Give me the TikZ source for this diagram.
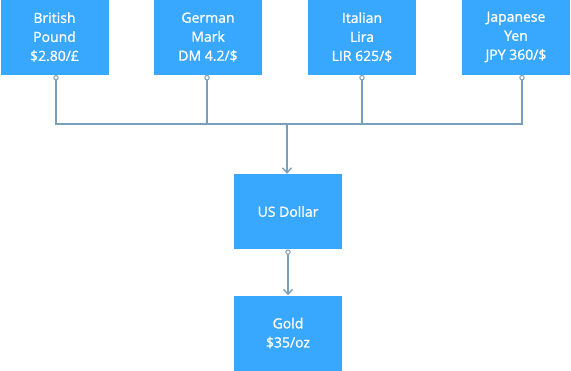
\documentclass[tikz,border=0pt]{standalone}
\usepackage{fontspec}
\setmainfont{Open Sans}[FakeBold=1.2]
\usetikzlibrary{arrows.meta}
\definecolor{boxblue}{HTML}{38A8FF}
\definecolor{linecol}{HTML}{7A9FBA}
\begin{document}
\begin{tikzpicture}[x=1pt,y=-1pt,
  cbox/.style={fill=boxblue, draw=none, minimum width=108pt, minimum height=75pt, inner sep=0pt, text=white, align=center, font=\fontsize{14pt}{19pt}\selectfont},
  conn/.style={draw=linecol, line width=1.4pt},
  dot/.style={draw=linecol, line width=1pt, fill=white},
  arr/.style={-{Straight Barb[length=5pt,width=9pt]}}
]
\useasboundingbox (0,0) rectangle (571,370);
\node[cbox] (bp) at (54.5,37) {British\\Pound\\\$2.80/£};
\node[cbox] (gm) at (208,37) {German\\Mark\\DM 4.2/\$};
\node[cbox] (il) at (362,37) {Italian\\Lira\\LIR 625/\$};
\node[cbox] (jy) at (516,37) {Japanese\\Yen\\JPY 360/\$};
\node[cbox] (usd) at (288,211.5) {US Dollar};
\node[cbox] (gold) at (288,333) {Gold\\\$35/oz};
\coordinate (hub) at (287,124);
\coordinate (pbp) at ([xshift=1.5pt,yshift=-3pt]bp.south);
\coordinate (pgm) at ([xshift=-1pt,yshift=-3pt]gm.south);
\coordinate (pil) at ([yshift=-3pt]il.south);
\coordinate (pjy) at ([xshift=6pt,yshift=-3pt]jy.south);
\coordinate (pusd) at ([yshift=-3pt]usd.south);
\draw[conn] (pbp) |- (hub);
\draw[conn] (pgm) |- (hub);
\draw[conn] (pil) |- (hub);
\draw[conn] (pjy) |- (hub);
\draw[conn,arr] (hub) -- (usd.north -| hub);
\draw[conn,arr] (pusd) -- (gold.north);
\foreach \p in {pbp,pgm,pil,pjy,pusd} \draw[dot] (\p) circle (2.2pt);
\end{tikzpicture}
\end{document}
